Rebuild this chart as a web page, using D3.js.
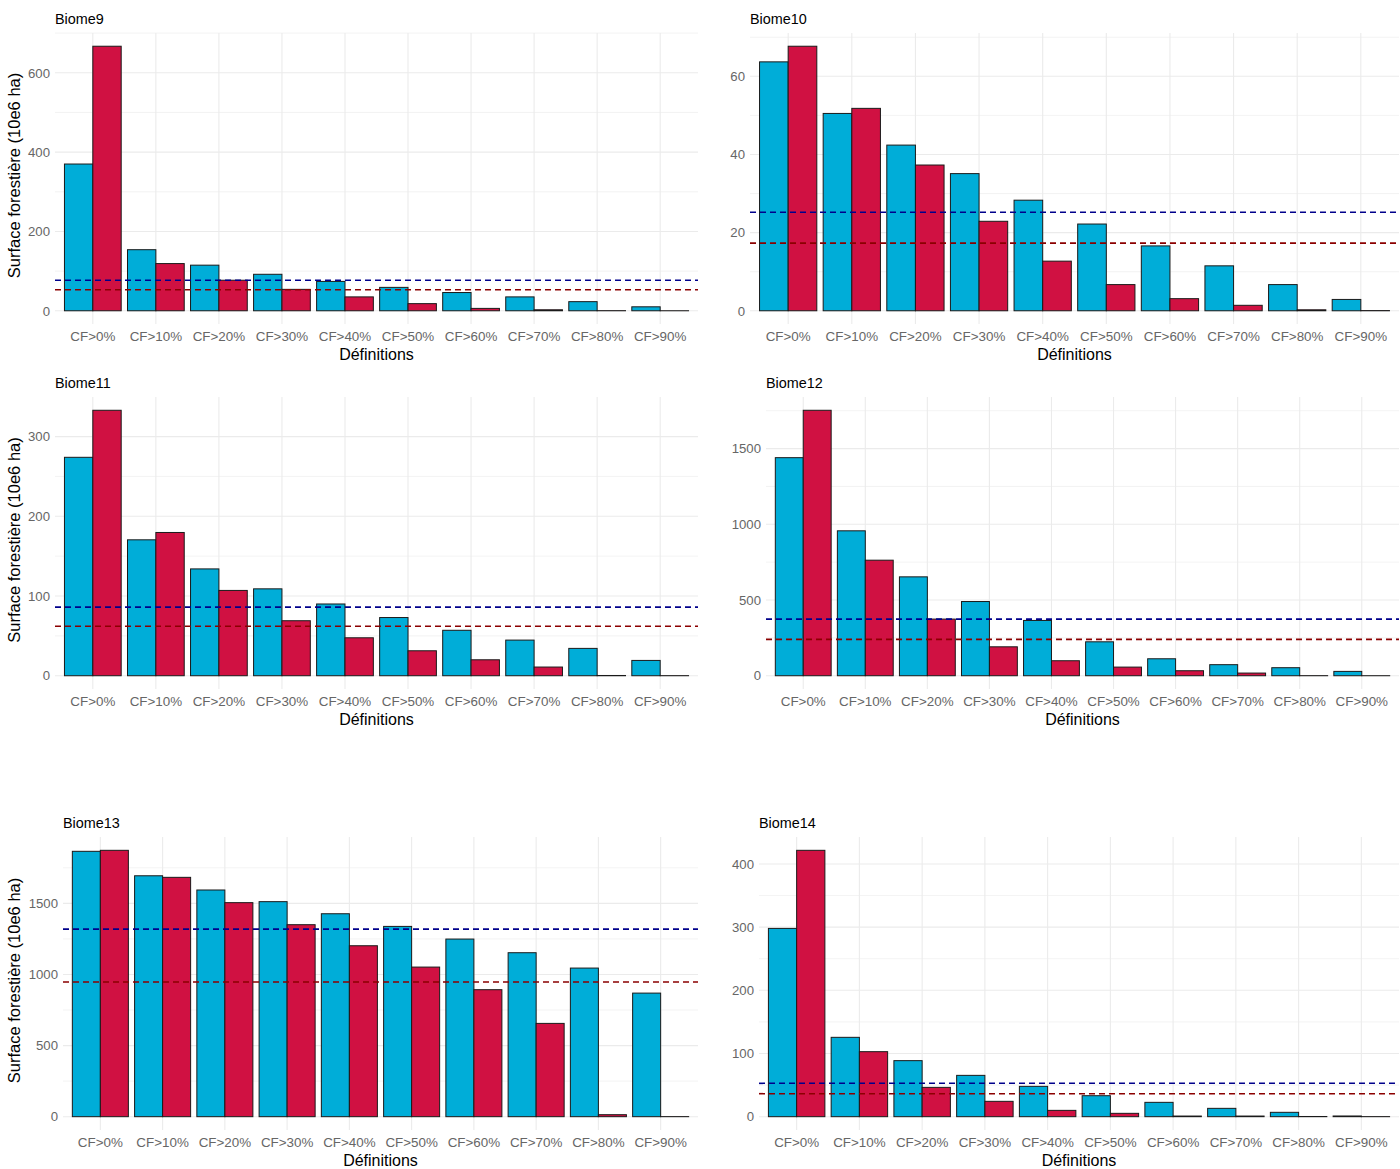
<!DOCTYPE html>
<html>
<head>
<meta charset="utf-8">
<script src="https://cdn.jsdelivr.net/npm/d3@7"></script>
<style>
  html, body { margin: 0; padding: 0; background: #ffffff; }
  svg { display: block; font-family: "Liberation Sans", Arial, sans-serif; }
</style>
</head>
<body>
<svg id="chart" width="1400" height="1169"></svg>
<script>
// ---------- DATA ----------
const categories = ["CF>0%", "CF>10%", "CF>20%", "CF>30%", "CF>40%", "CF>50%", "CF>60%", "CF>70%", "CF>80%", "CF>90%"];
const seriesKeys = ["blue", "red"];

const biome9Blue  = [370, 154, 115, 92, 74, 59, 46, 35, 23, 10];
const biome9Red   = [667, 119, 77, 54, 35, 18, 6, 2.5, 0.3, 0.1];
const biome9Ref   = [77, 53];

const biome10Blue = [63.7, 50.5, 42.4, 35.1, 28.3, 22.2, 16.6, 11.5, 6.7, 2.9];
const biome10Red  = [67.7, 51.8, 37.3, 22.9, 12.7, 6.7, 3.1, 1.4, 0.25, 0.05];
const biome10Ref  = [25.2, 17.3];

const biome11Blue = [274, 170.5, 134, 109, 90, 73, 57, 44.7, 34.3, 19.2];
const biome11Red  = [333, 179.7, 107, 69, 47.6, 31.3, 20, 10.9, 0.3, 0.1];
const biome11Ref  = [86, 62];

const biome12Blue = [1440, 957, 653, 490, 365, 224, 112, 73, 53, 28.6];
const biome12Red  = [1753, 763, 374, 191, 99, 57, 33, 17.6, 0.5, 0.2];
const biome12Ref  = [374, 240];

const biome13Blue = [1866, 1694, 1594, 1512, 1427, 1338, 1249, 1153, 1045, 869];
const biome13Red  = [1873, 1683, 1505, 1350, 1202, 1052, 893, 656, 14, 0.5];
const biome13Ref  = [1319, 947];

const biome14Blue = [298, 125.6, 88.7, 65.4, 48, 33.2, 22.7, 13.2, 6.9, 1.1];
const biome14Red  = [421.6, 102.9, 46.4, 24.3, 10, 5.3, 1, 1, 0.3, 0.1];
const biome14Ref  = [52.8, 36.4];

const biomeNames  = ["Biome9", "Biome10", "Biome11", "Biome12", "Biome13", "Biome14"];
const yTickSteps  = [200, 20, 100, 500, 500, 100];
const yAxisTitle  = "Surface forestière (10e6 ha)";
const xAxisTitle  = "Définitions";

// ---------- STYLE / LAYOUT ----------
const colors = { blue: "#00ADD8", red: "#D01142" };
const refColors = { blue: "#00008B", red: "#8B0000" };

const panels = [
  { name: biomeNames[0], blue: biome9Blue,  red: biome9Red,  ref: biome9Ref,  step: yTickSteps[0], box: { left: 55,  right: 698,  top: 33,  bottom: 324 },  yTitle: true },
  { name: biomeNames[1], blue: biome10Blue, red: biome10Red, ref: biome10Ref, step: yTickSteps[1], box: { left: 750, right: 1399, top: 33,  bottom: 324 },  yTitle: false },
  { name: biomeNames[2], blue: biome11Blue, red: biome11Red, ref: biome11Ref, step: yTickSteps[2], box: { left: 55,  right: 698,  top: 397, bottom: 689 },  yTitle: true },
  { name: biomeNames[3], blue: biome12Blue, red: biome12Red, ref: biome12Ref, step: yTickSteps[3], box: { left: 766, right: 1399, top: 397, bottom: 689 },  yTitle: false },
  { name: biomeNames[4], blue: biome13Blue, red: biome13Red, ref: biome13Ref, step: yTickSteps[4], box: { left: 63,  right: 698,  top: 837, bottom: 1130 }, yTitle: true },
  { name: biomeNames[5], blue: biome14Blue, red: biome14Red, ref: biome14Ref, step: yTickSteps[5], box: { left: 759, right: 1399, top: 837, bottom: 1130 }, yTitle: false }
];

const svg = d3.select("#chart");

panels.forEach(p => {
  const b = p.box;
  const g = svg.append("g");

  const rows = categories.map((c, i) => ({ cat: c, blue: p.blue[i], red: p.red[i] }));
  const maxV = d3.max(rows, d => Math.max(d.blue, d.red));

  const x0 = d3.scaleBand().domain(categories).range([b.left, b.right])
    .paddingInner(0.1).paddingOuter(0.15);
  const x1 = d3.scaleBand().domain(seriesKeys).range([0, x0.bandwidth()]).padding(0);
  const y = d3.scaleLinear().domain([-0.05 * maxV, 1.05 * maxV]).range([b.bottom, b.top]);

  const ymax = 1.05 * maxV, ymin = -0.05 * maxV;
  const majors = d3.range(0, ymax + 1e-9, p.step);
  const minors = [];
  for (let v = -p.step / 2; v <= ymax + 1e-9; v += p.step) {
    if (v >= ymin && v <= ymax) minors.push(v);
  }

  // minor grid
  g.append("g").selectAll("line").data(minors).join("line")
    .attr("x1", b.left).attr("x2", b.right)
    .attr("y1", d => y(d)).attr("y2", d => y(d))
    .attr("stroke", "#ebebeb").attr("stroke-width", 0.6);
  // major grid horizontal
  g.append("g").selectAll("line").data(majors).join("line")
    .attr("x1", b.left).attr("x2", b.right)
    .attr("y1", d => y(d)).attr("y2", d => y(d))
    .attr("stroke", "#ebebeb").attr("stroke-width", 1.1);
  // major grid vertical
  g.append("g").selectAll("line").data(categories).join("line")
    .attr("x1", d => x0(d) + x0.bandwidth() / 2).attr("x2", d => x0(d) + x0.bandwidth() / 2)
    .attr("y1", b.top).attr("y2", b.bottom)
    .attr("stroke", "#ebebeb").attr("stroke-width", 1.1);

  // bars
  const groups = g.append("g").selectAll("g").data(rows).join("g")
    .attr("transform", d => `translate(${x0(d.cat)},0)`);
  groups.selectAll("rect").data(d => seriesKeys.map(k => ({ key: k, value: d[k] }))).join("rect")
    .attr("x", d => x1(d.key))
    .attr("width", x1.bandwidth())
    .attr("y", d => y(d.value))
    .attr("height", d => y(0) - y(d.value))
    .attr("fill", d => colors[d.key])
    .attr("stroke", "#1a1a1a")
    .attr("stroke-width", 1);

  // reference dashed lines
  g.append("g").selectAll("line").data(seriesKeys.map((k, i) => ({ key: k, value: p.ref[i] }))).join("line")
    .attr("x1", b.left).attr("x2", b.right)
    .attr("y1", d => y(d.value)).attr("y2", d => y(d.value))
    .attr("stroke", d => refColors[d.key])
    .attr("stroke-width", 1.6)
    .attr("stroke-dasharray", "6,4");

  // y axis tick labels
  const yAxis = d3.axisLeft(y).tickValues(majors).tickSize(0).tickPadding(5).tickFormat(d3.format("d"));
  const ya = g.append("g").attr("transform", `translate(${b.left},0)`).call(yAxis);
  ya.select(".domain").remove();
  ya.selectAll("text").attr("fill", "#666666").style("font-size", "13.2px")
    .style("font-family", "'Liberation Sans', Arial, sans-serif");

  // x axis tick labels
  const xAxis = d3.axisBottom(x0).tickSize(0).tickPadding(7);
  const xa = g.append("g").attr("transform", `translate(0,${b.bottom})`).call(xAxis);
  xa.select(".domain").remove();
  xa.selectAll("text").attr("fill", "#666666").style("font-size", "13.4px")
    .style("font-family", "'Liberation Sans', Arial, sans-serif");

  // x axis title
  g.append("text")
    .attr("x", (b.left + b.right) / 2).attr("y", b.bottom + 36)
    .attr("text-anchor", "middle").attr("fill", "#000")
    .style("font-size", "16px").text(xAxisTitle);

  // panel title
  g.append("text")
    .attr("x", b.left).attr("y", b.top - 9)
    .attr("fill", "#000").style("font-size", "14.4px").text(p.name);

  // y axis title
  if (p.yTitle) {
    g.append("text")
      .attr("transform", `translate(20,${(b.top + b.bottom) / 2 - 3}) rotate(-90)`)
      .attr("text-anchor", "middle").attr("fill", "#000")
      .style("font-size", "16.5px").text(yAxisTitle);
  }
});
</script>
</body>
</html>
